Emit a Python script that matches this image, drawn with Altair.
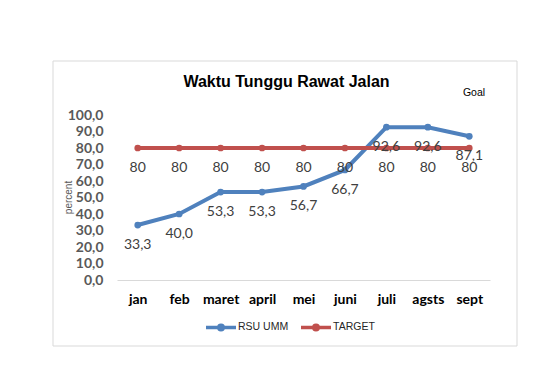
import altair as alt
import pandas as pd

months = ["jan", "feb", "maret", "april", "mei", "juni", "juli", "agsts", "sept"]
rsu_umm = [33.3, 40.0, 53.3, 53.3, 56.7, 66.7, 92.6, 92.6, 87.1]
target = [80, 80, 80, 80, 80, 80, 80, 80, 80]
series_names = ["RSU UMM", "TARGET"]
series_colors = ["#4F81BD", "#C0504D"]
y_ticks = [0, 10, 20, 30, 40, 50, 60, 70, 80, 90, 100]

rows = []
for m, v in zip(months, rsu_umm):
    rows.append({"month": m, "value": v, "series": "RSU UMM",
                 "label": f"{v:.1f}".replace(".", ",")})
for m, v in zip(months, target):
    rows.append({"month": m, "value": v, "series": "TARGET", "label": str(v)})
df = pd.DataFrame(rows)

W, H = 373, 165

x_enc = alt.X("month:N", sort=months, title=None,
              scale=alt.Scale(type="point", padding=0.5),
              axis=alt.Axis(labelAngle=0, ticks=False, domainColor="#d9d9d9",
                            domainWidth=1, labelFont="Lato", labelFontWeight="bold",
                            labelFontSize=14, labelColor="#000000", labelPadding=12))
y_enc = alt.Y("value:Q", title="percent",
              scale=alt.Scale(domain=[0, 100], nice=False),
              axis=alt.Axis(values=y_ticks, grid=False, domain=False, ticks=False,
                            labelOverlap=False,
                            labelExpr="replace(format(datum.value, '.1f'), '.', ',')",
                            labelFont="Lato", labelFontWeight="bold", labelFontSize=14,
                            labelColor="#595959", labelPadding=14,
                            titleFont="Liberation Sans", titleFontSize=10,
                            titleFontWeight="normal", titleColor="#595959",
                            titleX=-49, titleY=82, titleBaseline="middle"))
color_enc = alt.Color("series:N",
                      scale=alt.Scale(domain=series_names, range=series_colors),
                      legend=alt.Legend(title=None, orient="none", direction="horizontal",
                                        legendX=87, legendY=195,
                                        symbolType="M-1,0H1M-0.15,0A0.15,0.15 0 1,1 0.15,0A0.15,0.15 0 1,1 -0.15,0",
                                        symbolSize=900, symbolStrokeWidth=3.5,
                                        labelFont="Liberation Sans", labelFontSize=10.5,
                                        labelColor="#262626", labelOffset=0,
                                        columnPadding=5, padding=0))

frame = alt.Chart(alt.Data(values=[{}])).mark_rect(
    fillOpacity=0, stroke="#d9d9d9", strokeWidth=1
).encode(x=alt.value(-64), x2=alt.value(400), y=alt.value(-54), y2=alt.value(231))

goal = alt.Chart(alt.Data(values=[{"t": "Goal"}])).mark_text(
    font="Liberation Sans", fontSize=10.5, color="#000000", baseline="alphabetic"
).encode(x=alt.value(357), y=alt.value(-19), text="t:N")

base = alt.Chart(df)
lines = base.mark_line(strokeWidth=4, point=alt.OverlayMarkDef(size=45, filled=True)).encode(
    x=x_enc, y=y_enc, color=color_enc
)
labels = base.mark_text(font="Lato", fontSize=14, color="#404040", dy=20,
                        baseline="middle").encode(
    x=x_enc, y=y_enc, text="label:N"
)

chart = alt.layer(frame, lines, labels, goal).properties(
    width=W, height=H,
    title=alt.Title("Waktu Tunggu Rawat Jalan", font="Liberation Sans", fontSize=16,
                    fontWeight="bold", color="#000000", anchor="middle", frame="group",
                    dx=-17, dy=47, offset=18),
    autosize=alt.AutoSizeParams(type="none"),
    padding={"left": 109, "top": 107, "right": 50, "bottom": 70},
).configure_view(stroke=None)

chart.save("out.html", embed_options={"renderer": "svg", "actions": False})
